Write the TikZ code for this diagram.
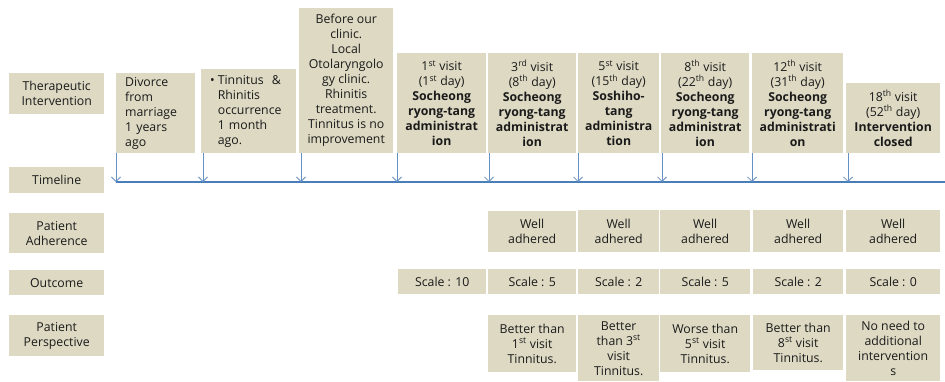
\documentclass[tikz,border=0pt]{standalone}
\usepackage{fontspec}
\setmainfont{Open Sans}
\usetikzlibrary{arrows.meta}
\definecolor{boxfill}{HTML}{DDD9C3}
\definecolor{tlblue}{HTML}{4A7EBB}
\definecolor{txt}{HTML}{1A1A1A}
\newcommand{\sups}[1]{\textsuperscript{#1}}
\tikzset{
  cell/.style={fill=boxfill, draw=none, inner sep=0pt, anchor=north west, align=center,
    text=txt, font=\fontsize{12.3}{15}\selectfont},
  drop/.style={draw=tlblue!85, line width=0.8pt, -{Straight Barb[length=4.5pt,width=9pt]}},
  tline/.style={draw=tlblue, line width=1.3pt},
}
\begin{document}
\begin{tikzpicture}[x=1pt,y=-1pt]
\useasboundingbox (0,0) rectangle (945,381);
% left labels
\node[cell, minimum width=95pt, minimum height=41pt] (lti) at (9,73) {Therapeutic\\Intervention};
\node[cell, minimum width=95pt, minimum height=26pt] (ltl) at (9,167) {Timeline};
\node[cell, minimum width=95pt, minimum height=40pt] (lpa) at (9,213) {Patient\\Adherence};
\node[cell, minimum width=95pt, minimum height=25pt] (lout) at (9,270) {Outcome};
\node[cell, minimum width=95pt, minimum height=41pt] (lpp) at (9,315) {Patient\\Perspective};
% top events
\node[cell, minimum height=80pt, inner xsep=9pt, text width=61pt, align=left] (e1) at (116,73)
  {Divorce\\from\\marriage\\1 years\\ago};
\node[cell, minimum height=84pt, inner xsep=9pt, text width=77pt, align=left] (e2) at (201,69)
  {\begin{tabular}{@{}l@{\hspace{3pt}}l@{}}\textbullet&Tinnitus \ \&\\ &Rhinitis\\ &occurrence\\ &1 month\\ &ago.\end{tabular}};
\node[cell, minimum width=94pt, minimum height=145pt] (e3) at (299,8)
  {Before our\\clinic.\\Local\\Otolaryngolo\\gy clinic.\\Rhinitis\\treatment.\\Tinnitus is no\\improvement};
\node[cell, minimum width=89pt, minimum height=100pt] (e4) at (397,53)
  {1\sups{st} visit\\(1\sups{st} day)\\\textbf{Socheong}\\\textbf{ryong-tang}\\\textbf{administrat}\\\textbf{ion}};
\node[cell, minimum width=88pt, minimum height=100pt] (e5) at (488,53)
  {3\sups{rd} visit\\(8\sups{th} day)\\\textbf{Socheong}\\\textbf{ryong-tang}\\\textbf{administrat}\\\textbf{ion}};
\node[cell, minimum width=81pt, minimum height=100pt] (e6) at (578,53)
  {5\sups{st} visit\\(15\sups{th} day)\\\textbf{Soshiho-}\\\textbf{tang}\\\textbf{administra}\\\textbf{tion}};
\node[cell, minimum width=88pt, minimum height=100pt] (e7) at (661,53)
  {8\sups{th} visit\\(22\sups{th} day)\\\textbf{Socheong}\\\textbf{ryong-tang}\\\textbf{administrat}\\\textbf{ion}};
\node[cell, minimum width=91pt, minimum height=100pt] (e8) at (752,53)
  {12\sups{th} visit\\(31\sups{th} day)\\\textbf{Socheong}\\\textbf{ryong-tang}\\\textbf{administrati}\\\textbf{on}};
\node[cell, minimum width=94pt, minimum height=70pt] (e9) at (846,83)
  {18\sups{th} visit\\(52\sups{th} day)\\\textbf{Intervention}\\\textbf{closed}};
% timeline
\coordinate (tlA) at (116,182);
\coordinate (tlB) at (945,182);
\draw[tline] (tlA) -- (tlB);
\foreach \e/\dx in {e1/0,e2/2,e3/2,e4/0,e5/1,e6/0,e7/1,e8/0,e9/2}{
  \draw[drop] ([xshift=\dx pt]\e.south west) -- ([xshift=\dx pt]\e.south west |- tlA);
}
% adherence
\node[cell, minimum width=88pt, minimum height=41pt] (a1) at (488,211) {Well\\adhered};
\node[cell, minimum width=81pt, minimum height=42pt] (a2) at (578,210) {Well\\adhered};
\node[cell, minimum width=90pt, minimum height=42pt] (a3) at (660,210) {Well\\adhered};
\node[cell, minimum width=90pt, minimum height=42pt] (a4) at (753,210) {Well\\adhered};
\node[cell, minimum width=94pt, minimum height=42pt] (a5) at (846,210) {Well\\adhered};
% outcome
\node[cell, minimum width=88pt, minimum height=25pt] (o0) at (398,269) {Scale : 10};
\node[cell, minimum width=88pt, minimum height=25pt] (o1) at (488,269) {Scale : 5};
\node[cell, minimum width=81pt, minimum height=25pt] (o2) at (578,269) {Scale : 2};
\node[cell, minimum width=90pt, minimum height=25pt] (o3) at (660,269) {Scale : 5};
\node[cell, minimum width=90pt, minimum height=25pt] (o4) at (753,269) {Scale : 2};
\node[cell, minimum width=94pt, minimum height=25pt] (o5) at (846,269) {Scale : 0};
% perspective
\node[cell, minimum width=88pt, minimum height=57pt] (p1) at (488,315) {Better than\\1\sups{st} visit\\Tinnitus.};
\node[cell, minimum width=81pt, minimum height=66pt] (p2) at (578,315) {Better\\than 3\sups{st}\\visit\\Tinnitus.};
\node[cell, minimum width=90pt, minimum height=57pt] (p3) at (660,315) {Worse than\\5\sups{st} visit\\Tinnitus.};
\node[cell, minimum width=90pt, minimum height=55pt] (p4) at (753,315) {Better than\\8\sups{st} visit\\Tinnitus.};
\node[cell, minimum width=94pt, minimum height=66pt] (p5) at (846,315) {No need to\\additional\\intervention\\s};
\end{tikzpicture}
\end{document}
